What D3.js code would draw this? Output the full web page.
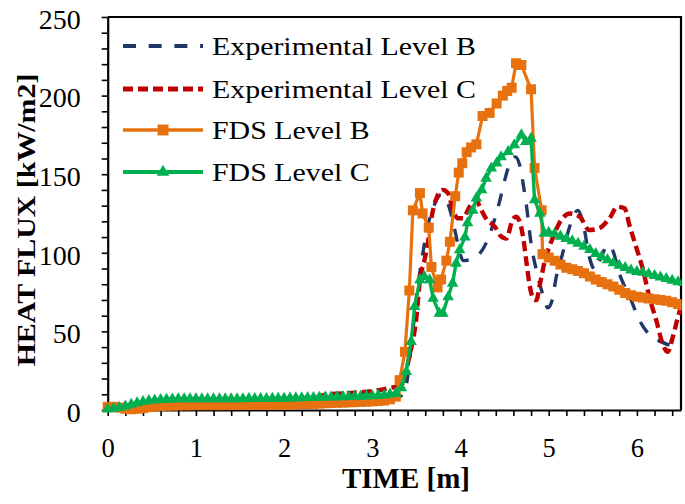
<!DOCTYPE html>
<html><head><meta charset="utf-8">
<script src="https://cdn.jsdelivr.net/npm/d3@7"></script>
<style>body{margin:0;background:#fff} svg{display:block}</style>
</head><body><svg id="c" width="685" height="504"></svg>
<script>
// ---- data (time [min], heat flux [kW/m2]) ----
const seriesNames = ["Experimental Level B", "Experimental Level C", "FDS Level B", "FDS Level C"];
const xTickLabels = [0, 1, 2, 3, 4, 5, 6];
const yTickLabels = [0, 50, 100, 150, 200, 250];
const xTitle = "TIME [m]";
const yTitle = "HEAT FLUX [kW/m2]";

const expB = [[0,0],[0.3,1],[0.6,2],[1,3],[1.5,3.5],[2,4],[2.5,5],[3,6.5],[3.3,8],[3.38,15],[3.45,45],[3.5,72],[3.56,95],[3.62,115],[3.7,130],[3.78,137],[3.86,131],[3.93,116],[3.98,103],[4.03,95],[4.14,96.5],[4.25,102],[4.32,110],[4.38,120],[4.44,132],[4.5,146],[4.56,157],[4.62,161],[4.67,156],[4.71,144],[4.75,129],[4.8,106],[4.86,89],[4.93,74],[4.99,65],[5.04,70],[5.08,83],[5.16,100],[5.24,117],[5.33,127],[5.39,119],[5.46,97.5],[5.53,89],[5.6,98],[5.67,105],[5.73,101],[5.8,87],[5.92,72],[6.03,57],[6.14,48],[6.29,43],[6.44,40],[6.5,39]];

const expC = [[0,0],[0.3,1.5],[0.6,3],[1,4],[1.5,5],[2,6],[2.3,7.5],[2.5,10],[2.8,11],[3,12],[3.2,14],[3.3,15.5],[3.36,20],[3.42,34],[3.5,59],[3.54,83],[3.59,95],[3.63,106],[3.67,122],[3.72,133.6],[3.8,140],[3.86,137.8],[3.91,128],[3.97,122],[4.03,122],[4.1,129],[4.18,133.6],[4.22,129],[4.3,121],[4.39,116.6],[4.45,111],[4.52,109],[4.59,121],[4.63,123],[4.67,120],[4.71,110],[4.75,93],[4.78,80.6],[4.84,70],[4.86,70],[4.9,80],[4.95,93.3],[5.05,110],[5.12,118.8],[5.24,125],[5.35,123],[5.46,114.5],[5.57,115.6],[5.69,122],[5.78,129.3],[5.86,128.3],[5.92,116.6],[5.99,104],[6.07,89],[6.14,72],[6.22,57],[6.29,42.4],[6.35,37],[6.4,45],[6.46,58],[6.5,66]];

const fdsB = [[0,2],[0.067,2],[0.133,1.5],[0.2,0.8],[0.267,0.5],[0.333,0.8],[0.4,1.2],[0.467,1.8],[0.533,2.2],[0.6,2.5],
[0.667,2.7],[0.733,2.8],[0.8,2.9],[0.867,3],[0.933,3],[1,3.1],[1.067,3.1],[1.133,3.1],[1.2,3.1],[1.267,3.1],
[1.333,3.1],[1.4,3.2],[1.467,3.2],[1.533,3.2],[1.6,3.2],[1.667,3.2],[1.733,3.2],[1.8,3.3],[1.867,3.3],[1.933,3.3],
[2,3.4],[2.067,3.5],[2.133,3.6],[2.2,3.7],[2.267,3.8],[2.333,3.9],[2.4,4.1],[2.467,4.3],[2.533,4.5],[2.6,4.6],
[2.667,4.7],[2.733,4.9],[2.8,5],[2.867,5.2],[2.933,5.3],[3,5.5],[3.067,5.7],[3.133,6],[3.2,6.8],[3.267,8.5],
[3.31,19],[3.37,37],[3.42,76],[3.46,127],[3.54,138],[3.57,125],[3.64,116],[3.67,91],[3.74,78],[3.78,83],
[3.84,95],[3.88,107],[3.94,136],[3.98,151],[4.02,157],[4.07,164],[4.12,167],[4.18,169],[4.25,187],[4.33,189],
[4.41,195],[4.48,200],[4.53,203],[4.58,205],[4.63,220.5],[4.69,219.5],[4.8,204],[4.84,154],[4.92,127],[4.93,99],
[5,97],[5.067,95],[5.133,92.5],[5.2,90.5],[5.267,89.5],[5.333,88.5],[5.4,87],[5.467,85],[5.533,83],[5.6,81.5],
[5.667,80],[5.733,78.5],[5.8,76.5],[5.867,74.5],[5.933,73],[6,72],[6.067,71.5],[6.133,71],[6.2,70.5],[6.267,70],
[6.333,69.5],[6.4,68.5],[6.467,67.5],[6.533,66.5]];

const fdsC = [[0,0.5],[0.067,1],[0.133,1.5],[0.2,2.5],[0.267,3.5],[0.333,4.5],[0.4,5.3],[0.467,5.9],[0.533,6.3],[0.6,6.6],
[0.667,6.8],[0.733,6.9],[0.8,7],[0.867,7],[0.933,7.1],[1,7.1],[1.067,7.1],[1.133,7.1],[1.2,7.1],[1.267,7.1],
[1.333,7.1],[1.4,7.1],[1.467,7.1],[1.533,7.1],[1.6,7.2],[1.667,7.2],[1.733,7.2],[1.8,7.2],[1.867,7.3],[1.933,7.3],
[2,7.4],[2.067,7.5],[2.133,7.6],[2.2,7.7],[2.267,7.8],[2.333,7.9],[2.4,8],[2.467,8.1],[2.533,8.2],[2.6,8.3],
[2.667,8.4],[2.733,8.5],[2.8,8.6],[2.867,8.7],[2.933,8.8],[3,9],[3.067,9.2],[3.133,9.5],[3.2,10],[3.267,10.5],
[3.33,14],[3.385,24.4],[3.44,43.5],[3.48,65.7],[3.54,82.7],[3.59,84.8],[3.65,82.7],[3.69,71],[3.76,61.5],[3.8,61.5],
[3.86,72],[3.91,80.6],[3.95,93.3],[3.99,101.8],[4.05,110],[4.08,119],[4.14,127],[4.18,134.7],[4.24,140],[4.29,147.4],
[4.35,153.8],[4.41,157],[4.46,161],[4.54,164.3],[4.61,168.6],[4.69,175],[4.74,170.7],[4.8,172.8],[4.84,133.6],[4.9,125],
[4.95,112.4],[5,113],[5.067,112],[5.133,110.5],[5.2,109],[5.267,107.5],[5.333,106],[5.4,104],[5.467,102],[5.533,99.5],
[5.6,97.5],[5.667,95.5],[5.733,93.5],[5.8,92],[5.867,90.5],[5.933,89],[6,88],[6.067,87.5],[6.133,86.5],[6.2,85.5],
[6.267,84.5],[6.333,83.5],[6.4,82.5],[6.467,81.5],[6.533,81]];

// ---- chart ----
const svg = d3.select("#c");
const FONT = "'Liberation Serif','Times New Roman',serif";
const x = d3.scaleLinear().domain([0, 6.5]).range([107.7, 681]);
const y = d3.scaleLinear().domain([0, 250]).range([410, 17]);

const styles = [
  {data: expB, color: "#1F3868", width: 3.4, dash: "13,12.7", curve: d3.curveMonotoneX, marker: null},
  {data: expC, color: "#C00000", width: 4.4, dash: "10,5", curve: d3.curveMonotoneX, marker: null},
  {data: fdsB, color: "#E8710F", width: 3.2, dash: null, curve: d3.curveLinear, marker: d3.symbolSquare, msize: 100},
  {data: fdsC, color: "#00B050", width: 3.4, dash: null, curve: d3.curveLinear, marker: d3.symbolTriangle, msize: 58}
];

svg.append("defs").append("clipPath").attr("id", "clip")
  .append("rect").attr("x", 0).attr("y", 0).attr("width", x(6.5) + 0.5).attr("height", 504);

// axes
const yMinor = d3.range(0, 26).map(i => i * 10);
const yAxis = d3.axisLeft(y).tickValues(yMinor).tickSize(6).tickSizeOuter(0).tickPadding(21)
  .tickFormat(d => yTickLabels.includes(d) ? d : "");
const gy = svg.append("g").attr("transform", `translate(${x(0)},0)`).call(yAxis);
gy.selectAll("text").attr("font-family", FONT).attr("font-size", 28).attr("fill", "#000").attr("dy", "0.4em");

const xMinor = d3.range(0, 33).map(i => i / 5);
const xAxis = d3.axisBottom(x).tickValues(xMinor).tickSize(6).tickSizeOuter(0).tickPadding(22.5)
  .tickFormat(d => Math.abs(d - Math.round(d)) < 1e-9 && xTickLabels.includes(Math.round(d)) ? Math.round(d) : "");
const gx = svg.append("g").attr("transform", `translate(0,${y(0)})`).call(xAxis);
gx.selectAll("text").attr("font-family", FONT).attr("font-size", 26.5).attr("fill", "#000");

[gx, gy].forEach(g => {
  g.select(".domain").attr("stroke", "#000").attr("stroke-width", 2.2);
  g.selectAll(".tick line").attr("stroke", "#000").attr("stroke-width", 1.6);
});

// top and right border
svg.append("path")
  .attr("d", `M${x(0)},${y(250)}H${x(6.5)}V${y(0)}`)
  .attr("fill", "none").attr("stroke", "#000").attr("stroke-width", 2.2);

// series
const plot = svg.append("g").attr("clip-path", "url(#clip)");
styles.forEach(s => {
  const line = d3.line().x(d => x(d[0])).y(d => y(d[1])).curve(s.curve);
  plot.append("path").datum(s.data).attr("d", line)
    .attr("fill", "none").attr("stroke", s.color).attr("stroke-width", s.width)
    .attr("stroke-dasharray", s.dash).attr("stroke-linejoin", "round");
  if (s.marker) {
    plot.append("g").selectAll("path").data(s.data).join("path")
      .attr("d", d3.symbol(s.marker, s.msize))
      .attr("transform", d => `translate(${x(d[0])},${y(d[1])})`)
      .attr("fill", s.color);
  }
});

// legend
const legRows = [46, 89, 130, 172];
styles.forEach((s, i) => {
  const g = svg.append("g").attr("transform", `translate(0,${legRows[i]})`);
  g.append("line").attr("x1", 123).attr("x2", 203).attr("y1", 0).attr("y2", 0)
    .attr("stroke", s.color).attr("stroke-width", s.width + 0.4).attr("stroke-dasharray", s.dash);
  if (s.marker) {
    g.append("path").attr("d", d3.symbol(s.marker, s.msize * 1.2)).attr("transform", "translate(163,0)").attr("fill", s.color);
  }
  g.append("text").attr("transform", "translate(212,8.5) scale(1.15,1)")
    .attr("font-family", FONT).attr("font-size", 26).attr("fill", "#000").text(seriesNames[i]);
});

// axis titles
svg.append("text").attr("x", 406).attr("y", 488).attr("text-anchor", "middle")
  .attr("font-family", FONT).attr("font-weight", "bold").attr("font-size", 29).attr("fill", "#000").text(xTitle);
svg.append("text").attr("transform", "translate(35,220) rotate(-90) scale(1.15,1)").attr("text-anchor", "middle")
  .attr("font-family", FONT).attr("font-weight", "bold").attr("font-size", 26).attr("fill", "#000").text(yTitle);
</script></body></html>
